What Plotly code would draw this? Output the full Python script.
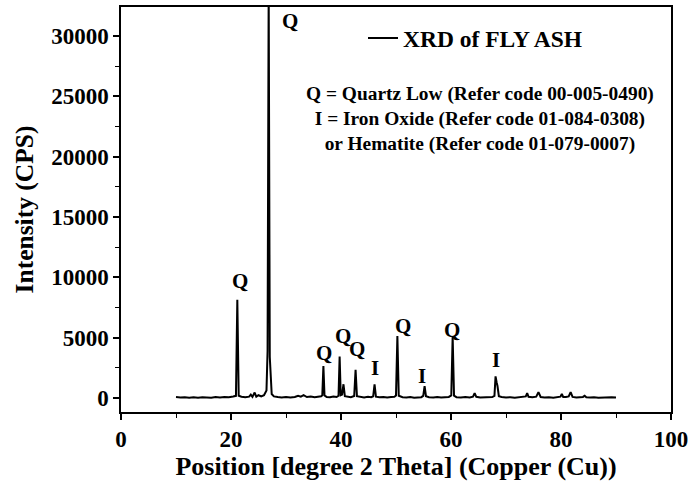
import plotly.graph_objects as go

# Diffraction pattern of fly ash, 2-theta (degrees) vs counts per second
two_theta = [
    10.0, 10.8, 11.6, 12.4, 13.2, 14.0, 14.8, 15.6, 16.4, 17.2, 18.0, 18.8, 19.6, 20.4,
    20.9, 21.15, 21.4,
    21.9, 22.6, 23.3, 23.6, 23.9, 24.3, 24.6, 25.0, 25.5, 26.0, 26.45,
    26.65, 26.85, 27.05,
    27.4, 27.8, 28.5, 29.2, 30.0, 30.8, 31.6, 32.2, 32.7, 33.2, 33.8, 34.5, 35.2, 35.9, 36.4,
    36.6, 36.8, 37.0,
    37.4, 38.0, 38.6, 39.2, 39.55,
    39.75, 39.95,
    40.2, 40.45, 40.7,
    41.2, 41.8, 42.4,
    42.65, 42.9,
    43.5, 44.2, 44.9, 45.5, 45.85,
    46.1, 46.35,
    47.0, 47.7, 48.4, 49.1, 49.7, 50.0,
    50.25, 50.5,
    51.2, 51.9, 52.6, 53.3, 54.0, 54.6, 54.95,
    55.2, 55.45,
    56.0, 56.8, 57.5, 58.2, 58.9, 59.6, 60.05,
    60.3, 60.55,
    61.0, 61.8, 62.6, 63.4, 64.0, 64.3, 64.6,
    65.3, 66.0, 66.8, 67.5, 67.9, 68.1, 68.3, 68.45, 68.7,
    69.2, 70.0, 70.8, 71.6, 72.4, 73.2, 73.6, 73.85, 74.1,
    74.8, 75.5, 75.9, 76.3,
    77.0, 77.8, 78.6, 79.4, 79.9, 80.15, 80.4,
    80.9, 81.4, 81.75, 82.1,
    82.8, 83.5, 84.0, 84.3, 84.6,
    85.3, 86.0, 86.8, 87.6, 88.4, 89.2, 90.0,
]
counts = [
    90, 50, 80, 30, 70, 40, 80, 60, 30, 90, 50, 100, 70, 140,
    190, 8150, 200,
    110, 80, 120, 290, 100, 460, 120, 240, 140, 240, 640,
    3900, 34000, 3400,
    340, 140, 90, 60, 100, 50, 90, 200, 120, 240, 90, 140, 70, 120, 160,
    240, 2650, 220,
    100, 80, 140, 90, 200,
    3450, 240,
    290, 1150, 160,
    100, 80, 180,
    2350, 160,
    90, 60, 110, 70, 140,
    1150, 120,
    70, 100, 50, 90, 110, 220,
    5150, 200,
    80, 60, 100, 40, 90, 80, 190,
    1000, 160,
    70, 50, 90, 60, 80, 100, 220,
    5100, 200,
    80, 50, 90, 60, 120, 420, 110,
    60, 80, 50, 90, 190, 1800, 1300, 1000, 160,
    90, 50, 80, 40, 70, 90, 140, 420, 110,
    70, 120, 500, 90,
    50, 80, 40, 70, 120, 340, 100,
    90, 140, 500, 100,
    60, 80, 100, 200, 70,
    50, 80, 40, 70, 50, 80, 60,
]
assert len(two_theta) == len(counts)

# Phase identification marks above the peaks
peak_tags = ["Q", "Q", "Q", "Q", "Q", "I", "Q", "I", "Q", "I"]
tag_x = [21.7, 30.7, 36.9, 40.4, 42.9, 46.2, 51.3, 54.8, 60.1, 68.1]
tag_y = [9700, 31250, 3740, 5150, 4070, 2500, 6000, 1830, 5650, 3160]

phase_key = [
    "Q = Quartz Low (Refer code 00-005-0490)",
    "I = Iron Oxide (Refer code 01-084-0308)",
    "or Hematite (Refer code 01-079-0007)",
]

FONT = "Liberation Serif"

fig = go.Figure()
fig.add_trace(go.Scatter(
    x=two_theta, y=counts, mode="lines", name="<b>XRD of FLY ASH</b>",
    line=dict(color="black", width=2),
))

for t, x, y in zip(peak_tags, tag_x, tag_y):
    fig.add_annotation(x=x, y=y, text=f"<b>{t}</b>", showarrow=False,
                       font=dict(family=FONT, size=21, color="black"))

fig.add_annotation(
    xref="paper", yref="paper", x=0.653, y=0.817,
    text="<br>".join(f"<b>{s}</b>" for s in phase_key),
    showarrow=False, align="center",
    font=dict(family=FONT, size=19.4, color="black"),
)

axis_common = dict(
    showline=True, linecolor="black", linewidth=1.5, mirror=True,
    ticks="outside", ticklen=6, tickwidth=1.5, tickcolor="black",
    showgrid=False, zeroline=False, ticklabeloverflow="allow", automargin=False,
    tickfont=dict(family=FONT, size=23, color="black", weight="bold"),
)

fig.update_xaxes(
    range=[0, 100], dtick=20, **axis_common,
    minor=dict(ticks="outside", ticklen=4, tickwidth=1.2, tickcolor="black", dtick=10),
    title=dict(text="<b>Position [degree 2 Theta] (Copper (Cu))</b>",
               font=dict(family=FONT, size=26, color="black"), standoff=3),
)
fig.update_yaxes(
    range=[-1150, 32400], dtick=5000, tickformat="d", **axis_common,
    minor=dict(ticks="outside", ticklen=4, tickwidth=1.2, tickcolor="black", dtick=2500),
    title=dict(text="<b>Intensity (CPS)</b>",
               font=dict(family=FONT, size=25.5, color="black"), standoff=10),
)

fig.update_layout(
    width=688, height=483,
    margin=dict(l=121, r=17, t=7, b=71),
    paper_bgcolor="white", plot_bgcolor="white",
    showlegend=True,
    legend=dict(x=0.44, y=0.923, xanchor="left", yanchor="middle",
                bgcolor="rgba(0,0,0,0)",
                font=dict(family=FONT, size=23.5, color="black")),
)

fig.write_html("out.html")
